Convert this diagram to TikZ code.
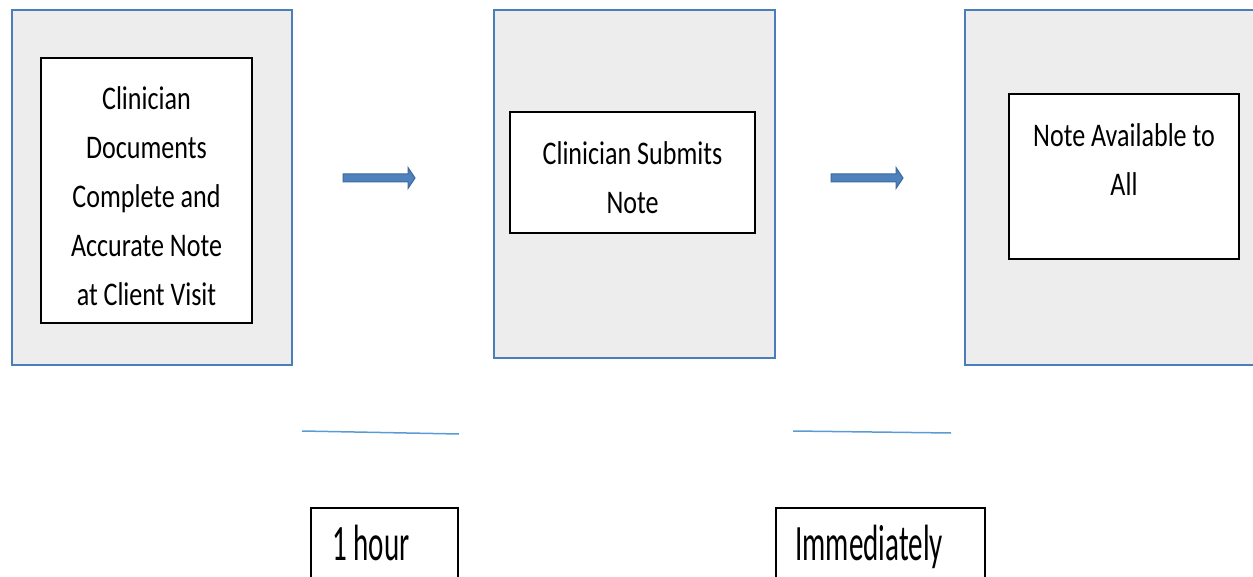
\documentclass[tikz,border=0pt]{standalone}
\usepackage{fontspec}
\setmainfont{Carlito}[FakeStretch=0.79]
\newfontfamily\tallfont{Carlito}[FakeStretch=0.57]
\usetikzlibrary{positioning,calc}
\definecolor{stageedge}{HTML}{4A7EBB}
\definecolor{stagefill}{HTML}{EDEDED}
\definecolor{arrowfill}{HTML}{4F81BD}
\definecolor{arrowedge}{HTML}{3B6AA0}
\definecolor{gapblue}{HTML}{5B9BD5}
\tikzset{
  stage/.style={draw=stageedge, fill=stagefill, line width=1pt, inner sep=0pt},
  notebox/.style={draw=black, fill=white, line width=0.75pt, inner sep=0pt},
  notetext/.style={align=center, inner sep=0pt, font=\fontsize{16.5}{24.5}\selectfont},
  timebox/.style={draw=black, line width=0.75pt, inner sep=0pt, anchor=north west},
  timetext/.style={inner sep=0pt, anchor=base west, font=\tallfont\fontsize{25.5}{30}\selectfont},
  blockarrow/.style={fill=arrowfill, draw=arrowedge, line width=0.5pt},
  gapline/.style={draw=gapblue, line width=0.75pt}
}
\begin{document}
\begin{tikzpicture}[x=0.5pt,y=-0.5pt]
\useasboundingbox (0,0) rectangle (1253,577);
% three stages
\node[stage, minimum width=140pt, minimum height=177.5pt] (visit) at (152,187.5) {};
\node[stage, minimum width=140.5pt, minimum height=174pt] (submit) at (634.5,184) {};
\node[stage, minimum width=150pt, minimum height=177.5pt] (avail) at (1115,187.5) {};
\node[notebox, minimum width=105.5pt, minimum height=132.5pt] (visitbox) at (146.5,190.5) {};
\node[notebox, minimum width=122.5pt, minimum height=60.5pt] (submitbox) at (632.5,172.5) {};
\node[notebox, minimum width=115pt, minimum height=82.5pt] (availbox) at (1124,176.5) {};
\node[notetext, below=14.5pt of visitbox.north] (visittext)
  {Clinician\\Documents\\Complete and\\Accurate Note\\at Client Visit};
\node[notetext, below=15pt of submitbox.north] (submittext) {Clinician Submits\\Note};
\node[notetext, below=15pt of availbox.north] (availtext) {Note Available to\\All};
% block arrows between the stages
\coordinate (arrowA) at (343,178);
\coordinate (arrowB) at (831,178);
\foreach \a in {arrowA,arrowB}
  \draw[blockarrow] (\a) ++(0,-4) -- ++(65,0) -- ++(0,-6.5) -- ++(7,10.5)
    -- ++(-7,10.5) -- ++(0,-6.5) -- ++(-65,0) -- cycle;
% timing lines
\coordinate (lineAs) at (302,431);
\coordinate (lineAe) at (459,434);
\coordinate (lineBs) at (793,431);
\coordinate (lineBe) at (951,433);
\draw[gapline] (lineAs) -- (lineAe);
\draw[gapline] (lineBs) -- (lineBe);
% timing boxes
\node[timebox, minimum width=73.5pt, minimum height=40pt] (hourbox) at (310,507) {};
\node[timebox, minimum width=104.5pt, minimum height=40pt] (nowbox) at (775,507) {};
\node[timetext] (hourtext) at (332,560) {1 hour};
\node[timetext] (nowtext) at (795,560) {Immediately};
\end{tikzpicture}
\end{document}
